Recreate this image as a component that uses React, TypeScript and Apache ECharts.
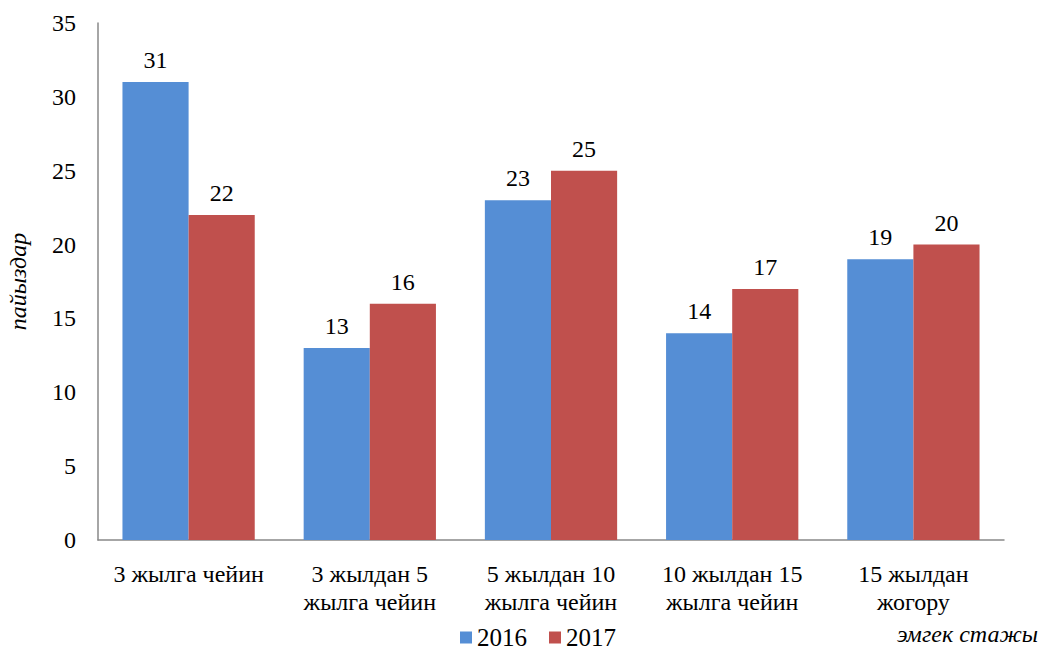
import React, { useEffect, useRef } from "react";
import * as echarts from "echarts";

const categories = [
  "3 жылга чейин",
  "3 жылдан 5\nжылга чейин",
  "5 жылдан 10\nжылга чейин",
  "10 жылдан 15\nжылга чейин",
  "15 жылдан\nжогору",
];
const values2016 = [31, 13, 23, 14, 19];
const values2017 = [22, 16, 25, 17, 20];
const seriesNames = ["2016", "2017"];
const xAxisTitle = "эмгек стажы";
const yAxisTitle = "пайыздар";

const FONT = "Liberation Serif, Times New Roman, serif";
const FS = 24;

export default function App() {
  const ref = useRef<HTMLDivElement>(null);
  useEffect(() => {
    if (!ref.current) return;
    const chart = echarts.init(ref.current, undefined, { renderer: "svg" });
    const label = {
      show: true,
      position: "top",
      distance: 10,
      color: "#000",
      fontFamily: FONT,
      fontSize: FS,
    };
    chart.setOption({
      animation: false,
      textStyle: { fontFamily: FONT },
      grid: {
        left: 98,
        top: 23,
        right: 44,
        bottom: 110,
        containLabel: false,
        outerBoundsMode: "none",
      },
      legend: {
        data: seriesNames,
        top: 620,
        left: 455,
        itemWidth: 12,
        itemHeight: 12,
        itemGap: 22,
        icon: "rect",
        textStyle: { fontFamily: FONT, fontSize: 25, color: "#000" },
      },
      graphic: [
        {
          type: "text",
          x: 1038,
          y: 634,
          style: {
            text: xAxisTitle,
            fontFamily: FONT,
            fontSize: FS,
            fontStyle: "italic",
            fill: "#000",
            align: "right",
            verticalAlign: "middle",
          },
        },
      ],
      xAxis: {
        type: "category",
        data: categories,
        axisLine: { lineStyle: { color: "#898989", width: 1.5 } },
        axisTick: { show: false },
        axisLabel: {
          color: "#000",
          fontFamily: FONT,
          fontSize: FS,
          lineHeight: 28,
          margin: 20,
          interval: 0,
        },
      },
      yAxis: {
        type: "value",
        min: 0,
        max: 35,
        interval: 5,
        splitLine: { show: false },
        axisLine: { show: true, lineStyle: { color: "#898989", width: 1.5 } },
        axisTick: { show: false },
        axisLabel: {
          color: "#000",
          fontFamily: FONT,
          fontSize: FS,
          margin: 22,
        },
        name: yAxisTitle,
        nameLocation: "middle",
        nameGap: 68,
        nameTextStyle: {
          fontFamily: FONT,
          fontSize: FS,
          fontStyle: "italic",
          color: "#000",
        },
      },
      series: [
        {
          name: seriesNames[0],
          type: "bar",
          data: values2016,
          barGap: "0%",
          barCategoryGap: "27%",
          itemStyle: { color: "#558ED5" },
          label,
        },
        {
          name: seriesNames[1],
          type: "bar",
          data: values2017,
          barGap: "0%",
          barCategoryGap: "27%",
          itemStyle: { color: "#C0504D" },
          label,
        },
      ],
    });
    return () => chart.dispose();
  }, []);
  return (
    <div
      ref={ref}
      style={{ position: "absolute", left: 0, top: 0, width: 1048, height: 650 }}
    />
  );
}
